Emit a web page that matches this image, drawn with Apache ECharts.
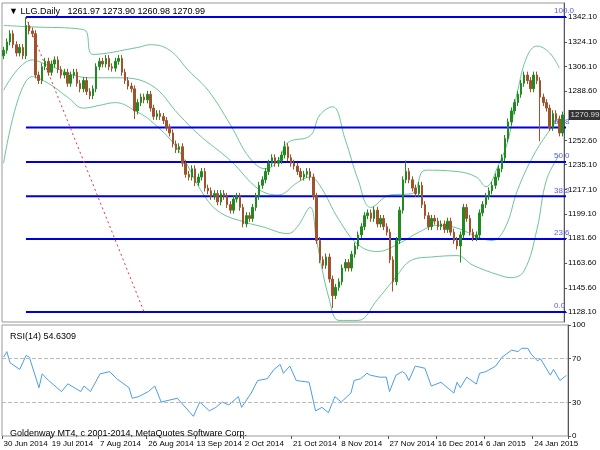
<!DOCTYPE html>
<html><head><meta charset="utf-8">
<script src="https://cdn.jsdelivr.net/npm/echarts@6/dist/echarts.min.js"></script>
<style>html,body{margin:0;padding:0;background:#fff}#c{width:600px;height:450px}</style>
</head><body><div id="c"></div>
<script>
const dateLabels = ['30 Jun 2014','19 Jul 2014','7 Aug 2014','26 Aug 2014','13 Sep 2014','2 Oct 2014','21 Oct 2014','8 Nov 2014','27 Nov 2014','16 Dec 2014','6 Jan 2015','24 Jan 2015'];
const closes = [
1318,1324,1330,1322,1316,1320,1314,1336,1332,1330,
1300,1296,1306,1310,1302,1308,1311,1304,1300,1302,
1294,1300,1302,1294,1290,1296,1288,1285,1290,1306,
1310,1308,1312,1306,1305,1310,1312,1302,1296,1292,
1290,1274,1280,1284,1282,1286,1276,1270,1272,1270,
1267,1262,1258,1250,1246,1248,1236,1228,1226,1232,
1222,1226,1230,1218,1216,1212,1214,1208,1214,1212,
1206,1202,1210,1212,1204,1192,1198,1196,1204,1212,
1220,1224,1230,1236,1240,1236,1238,1242,1248,1240,
1236,1234,1230,1226,1228,1230,1226,1212,1180,1166,
1162,1168,1152,1140,1146,1150,1160,1164,1160,1170,
1176,1184,1190,1198,1200,1196,1202,1192,1196,1190,
1186,1166,1150,1180,1202,1224,1230,1224,1218,1214,
1220,1206,1198,1190,1196,1194,1190,1192,1188,1194,
1186,1180,1176,1184,1204,1196,1186,1182,1184,1200,
1206,1212,1216,1220,1226,1232,1240,1254,1266,1274,
1280,1286,1294,1300,1296,1290,1300,1296,1284,1280,
1276,1262,1272,1268,1258,1270.99];
const firstOpen = 1314;
const longWicks = [[7,'high',1342],[103,'low',1131],[122,'low',1143],[126,'high',1238],[143,'low',1164],[168,'low',1252],[88,'high',1252],[41,'low',1268]];
const bbUpper = [[0,1336],[8,1335],[25,1333],[28,1315],[42,1320],[46,1322],[52,1318],[58,1303],[64,1289],[71,1264],[77,1240],[82,1232],[86,1238],[89,1251],[96,1256],[99,1271],[103,1277],[107,1253],[111,1224],[115,1204],[121,1213],[128,1214],[132,1231],[142,1230],[148,1226],[151,1219],[155,1235],[158,1253],[161,1289],[164,1314],[167,1321],[171,1316],[174,1305]];
const bbMiddle = [[0,1289],[9,1311],[14,1307],[27,1298],[35,1298],[46,1293],[55,1271],[61,1257],[71,1238],[80,1217],[86,1213],[92,1222],[96,1226],[99,1220],[105,1195],[111,1177],[117,1172],[124,1178],[130,1186],[136,1191],[142,1189],[149,1182],[153,1180],[157,1189],[161,1217],[166,1242],[171,1260],[174,1269]];
const bbLower = [[0,1236],[9,1299],[14,1294],[20,1284],[25,1276],[30,1278],[35,1280],[42,1273],[46,1267],[54,1248],[63,1212],[68,1200],[76,1193],[81,1190],[89,1185],[92,1190],[96,1204],[98,1180],[102,1137],[105,1122],[111,1122],[117,1137],[122,1151],[128,1166],[134,1168],[142,1169],[147,1162],[155,1155],[159,1153],[163,1158],[167,1188],[170,1224],[174,1242]];
const fibNames = ['100.0','61.8','50.0','38.2','23.6','0.0'];
const fibValues = [1342.1,1262,1237,1212,1181,1128.1];
const fibStart = 7;
const trendLine = [[7,1342],[44,1128.1]];
const lastPrice = 1270.99;
const priceTicks = [1342.10,1324.10,1306.10,1288.60,1252.60,1235.10,1217.10,1199.10,1181.60,1163.60,1145.60,1128.10];
const rsi = [[0,71],[1,76],[2,66],[5,60],[7,72.6],[8,71],[11,43.5],[12,56],[14,50],[18,40],[20,47],[24,40],[25,45],[27,40],[30,56],[33,58],[35,52],[39,43.5],[40,34],[42,35.5],[45,40],[47,45],[49,30.6],[54,34],[58,21],[59,17.7],[61,30.6],[64,22.6],[66,25.8],[68,30.6],[70,28],[73,35.5],[74,25.8],[77,38.7],[79,50],[82,51.6],[84,59.7],[86,64.5],[87,56.5],[89,63],[91,50],[95,48.4],[97,22.6],[99,25.8],[101,21],[103,35.5],[105,30.6],[108,38.7],[109,50],[111,51.6],[113,56.5],[114,54.8],[117,53],[119,53],[120,40],[122,54.8],[124,58],[125,56],[126,50],[128,63],[131,61],[133,45],[136,48.4],[140,38.7],[141,48.4],[142,43.5],[144,53],[147,46.8],[148,56.5],[150,58],[153,63],[155,71],[158,77.4],[160,76],[161,79],[163,79],[164,74],[166,67.7],[167,69.4],[170,54.8],[171,60],[173,50],[175,54.6]];
const rsiTicks = [100,70,30,0];

const N = closes.length;
const categories = closes.map((c,i)=> i%15===0 ? (dateLabels[i/15]||'') : '');
const ohlc = closes.map((c,i)=>{
  const o = i===0 ? firstOpen : closes[i-1];
  let lo = Math.min(o,c)-2.5, hi = Math.max(o,c)+2.5;
  longWicks.forEach(w=>{ if(w[0]===i){ if(w[1]==='high') hi=w[2]; else lo=w[2]; } });
  return [o,c,lo,hi];
});
const font = 'Liberation Sans';
const band = (d)=>({type:'line',data:d,xAxisIndex:0,yAxisIndex:0,smooth:0.4,symbol:'none',lineStyle:{color:'#6cc594',width:1},silent:true,z:2});
const fibSeries = fibValues.map((v,k)=>({type:'line',xAxisIndex:0,yAxisIndex:0,symbol:'none',silent:true,z:3,
  data:[[fibStart,v],[N+0.5,v]],lineStyle:{color:'#0000dd',width:2},
  endLabel:{show:true,formatter:fibNames[k],color:'#5a5af0',fontSize:8,fontFamily:font,offset:[-20,-6]}}));
const chart = echarts.init(document.getElementById('c'),null,{renderer:'canvas'});
chart.setOption({
  animation:false,
  textStyle:{fontFamily:font},
  title:[
    {text:'▼ LLG.Daily   1261.97 1273.90 1260.98 1270.99',left:4,top:2,textStyle:{fontSize:9,fontWeight:'normal',color:'#000',fontFamily:font}},
    {text:'RSI(14) 54.6309',left:5,top:327,textStyle:{fontSize:9,fontWeight:'normal',color:'#000',fontFamily:font}},
    {text:'Goldenway MT4, c 2001-2014, MetaQuotes Software Corp.',left:5,top:424,textStyle:{fontSize:9,fontWeight:'normal',color:'#000',fontFamily:font}}
  ],
  grid:[
    {left:2,right:32,top:3,height:319,show:true,borderColor:'#999',borderWidth:1},
    {left:2,right:32,top:325,height:111,show:true,borderColor:'#999',borderWidth:1}
  ],
  xAxis:[
    {type:'category',data:categories,gridIndex:0,boundaryGap:true,axisLabel:{show:false},axisTick:{show:false},axisLine:{show:false}},
    {type:'category',data:categories,gridIndex:1,boundaryGap:true,axisLine:{show:false},
     axisTick:{show:true,interval:14,length:3,lineStyle:{color:'#555'}},
     axisLabel:{interval:14,showMinLabel:true,fontSize:8,color:'#000',align:'left',margin:4,fontFamily:font}}
  ],
  yAxis:[
    {type:'value',gridIndex:0,position:'right',min:1120.85,max:1352.26,scale:true,splitLine:{show:false},
     axisLine:{show:true,lineStyle:{color:'#555'}},
     axisTick:{show:true,length:3,customValues:priceTicks,lineStyle:{color:'#555'}},
     axisLabel:{customValues:priceTicks,formatter:v=>v.toFixed(2),fontSize:8,color:'#000',margin:4,fontFamily:font}},
    {type:'value',gridIndex:1,position:'right',min:0,max:100,splitLine:{show:false},
     axisLine:{show:true,lineStyle:{color:'#555'}},
     axisTick:{show:true,length:3,customValues:rsiTicks,lineStyle:{color:'#555'}},
     axisLabel:{customValues:rsiTicks,fontSize:8,color:'#000',margin:4,fontFamily:font}}
  ],
  series:[
    ...fibSeries,
    band(bbUpper),band(bbMiddle),band(bbLower),
    {type:'line',data:trendLine,xAxisIndex:0,yAxisIndex:0,symbol:'none',lineStyle:{color:'#e0333a',width:1,type:[2,3]},z:3,silent:true},
    {type:'candlestick',data:ohlc,xAxisIndex:0,yAxisIndex:0,barWidth:2,z:5,
     itemStyle:{color:'#1f8a1f',color0:'#a0522d',borderColor:'#1f8a1f',borderColor0:'#a0522d',borderWidth:1}},
    {type:'scatter',data:[[N-1,lastPrice]],xAxisIndex:0,yAxisIndex:0,symbolSize:0.1,z:10,silent:true,
     label:{show:true,position:'right',distance:6,formatter:lastPrice.toFixed(2),backgroundColor:'#000',color:'#fff',fontSize:8,padding:[1,2],fontFamily:font}},
    {type:'line',data:rsi,xAxisIndex:1,yAxisIndex:1,symbol:'none',lineStyle:{color:'#4a9ee6',width:1},
     markLine:{silent:true,symbol:'none',data:[{yAxis:70},{yAxis:30}],label:{show:false},lineStyle:{color:'#bbb',type:'dashed',width:1}}}
  ]
});
</script></body></html>
